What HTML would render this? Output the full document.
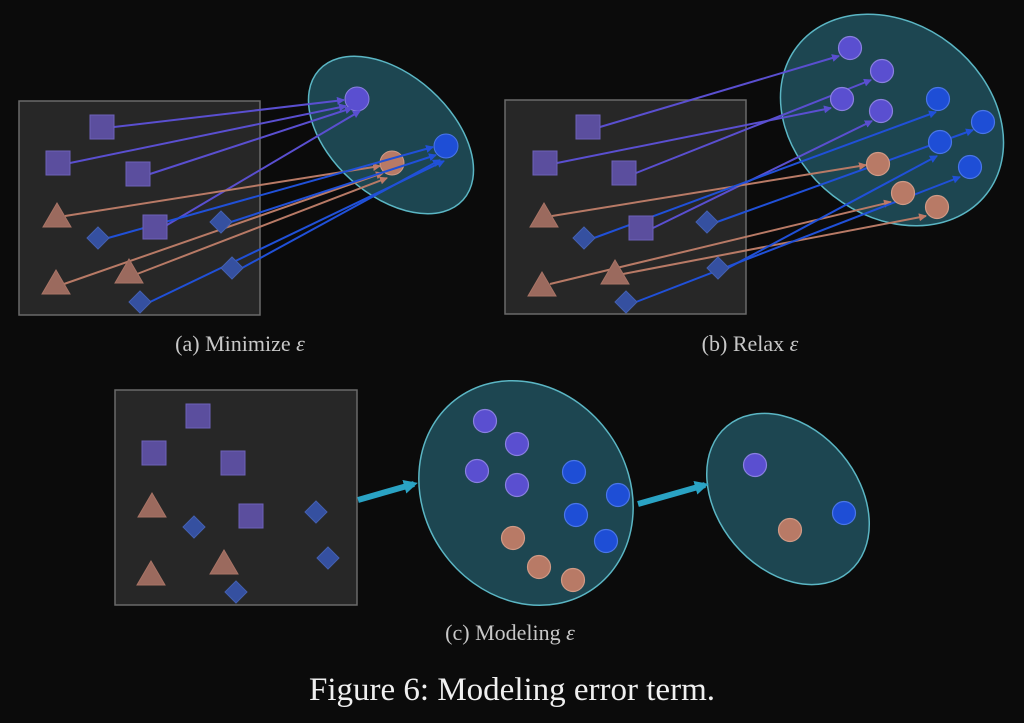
<!DOCTYPE html>
<html><head><meta charset="utf-8"><style>
html,body{margin:0;padding:0;background:#0b0b0b;}
svg{display:block}
text{font-family:"Liberation Serif",serif;}
</style></head><body>
<svg width="1024" height="723" viewBox="0 0 1024 723" xmlns="http://www.w3.org/2000/svg">
<defs>
<marker id="mp" markerWidth="8" markerHeight="8" refX="7" refY="4" orient="auto" markerUnits="userSpaceOnUse"><path d="M0,0 L8,4 L0,8 z" fill="#5a4fd0"/></marker>
<marker id="mo" markerWidth="8" markerHeight="8" refX="7" refY="4" orient="auto" markerUnits="userSpaceOnUse"><path d="M0,0 L8,4 L0,8 z" fill="#c07a66"/></marker>
<marker id="mb" markerWidth="8" markerHeight="8" refX="7" refY="4" orient="auto" markerUnits="userSpaceOnUse"><path d="M0,0 L8,4 L0,8 z" fill="#2050d8"/></marker>
<marker id="mt" markerWidth="14" markerHeight="14" refX="10" refY="7" orient="auto" markerUnits="userSpaceOnUse"><path d="M0,0 L14,7 L0,14 z" fill="#2aa3c4"/></marker>
<g id="sq"><rect x="-12" y="-12" width="24" height="24" fill="#5b4e9e" stroke="#6e62b8" stroke-width="1"/></g>
<g id="tr"><path d="M0,-13 L14,11 L-14,11 z" fill="#9b6a5e" stroke="#a87466" stroke-width="1"/></g>
<g id="di"><path d="M0,-11 L11,0 L0,11 L-11,0 z" fill="#3550a0" stroke="#4460b0" stroke-width="1"/></g>
</defs>
<rect width="1024" height="723" fill="#0b0b0b"/>

<!-- Panel a -->
<rect x="19" y="101" width="241" height="214" fill="#272727" stroke="#6a6a6a" stroke-width="1.5"/>
<ellipse cx="391" cy="135" rx="97" ry="60" transform="rotate(42 391 135)" fill="#1d4651" stroke="#5bb6c4" stroke-width="1.5"/>
<circle cx="357" cy="99" r="12" fill="#5a4fd0" stroke="#8a80e0"/>
<circle cx="392" cy="163" r="12" fill="#b87a66" stroke="#d09a86"/>
<circle cx="446" cy="146" r="12" fill="#1e4ed6" stroke="#4a76e8"/>
<g fill="none" stroke-width="2">
<line x1="114" y1="127" x2="344" y2="100" stroke="#5a4fd0" marker-end="url(#mp)"/>
<line x1="70" y1="163" x2="346" y2="106" stroke="#5a4fd0" marker-end="url(#mp)"/>
<line x1="150" y1="174" x2="352" y2="108" stroke="#5a4fd0" marker-end="url(#mp)"/>
<line x1="167" y1="225" x2="360" y2="111" stroke="#5a4fd0" marker-end="url(#mp)"/>
<line x1="65" y1="216" x2="380" y2="166" stroke="#b87a66" marker-end="url(#mo)"/>
<line x1="64" y1="284" x2="383" y2="173" stroke="#b87a66" marker-end="url(#mo)"/>
<line x1="137" y1="274" x2="387" y2="178" stroke="#b87a66" marker-end="url(#mo)"/>
<line x1="108" y1="238" x2="433" y2="147" stroke="#2050d8" marker-end="url(#mb)"/>
<line x1="231" y1="222" x2="436" y2="155" stroke="#2050d8" marker-end="url(#mb)"/>
<line x1="242" y1="268" x2="440" y2="160" stroke="#2050d8" marker-end="url(#mb)"/>
<line x1="150" y1="302" x2="444" y2="161" stroke="#2050d8" marker-end="url(#mb)"/>
</g>
<use href="#sq" x="102" y="127"/><use href="#sq" x="58" y="163"/><use href="#sq" x="138" y="174"/><use href="#sq" x="155" y="227"/>
<use href="#tr" x="57" y="216"/><use href="#tr" x="56" y="283"/><use href="#tr" x="129" y="272"/>
<use href="#di" x="98" y="238"/><use href="#di" x="221" y="222"/><use href="#di" x="232" y="268"/><use href="#di" x="140" y="302"/>
<text x="240" y="351" font-size="22" fill="#c8c8c8" text-anchor="middle">(a) Minimize <tspan font-style="italic">ε</tspan></text>

<!-- Panel b -->
<rect x="505" y="100" width="241" height="214" fill="#272727" stroke="#6a6a6a" stroke-width="1.5"/>
<ellipse cx="892" cy="120" rx="120" ry="96" transform="rotate(38 892 120)" fill="#1d4651" stroke="#5bb6c4" stroke-width="1.5"/>
<g fill="none" stroke-width="2">
<line x1="600" y1="127" x2="839" y2="56" stroke="#5a4fd0" marker-end="url(#mp)"/>
<line x1="557" y1="163" x2="831" y2="108" stroke="#5a4fd0" marker-end="url(#mp)"/>
<line x1="636" y1="173" x2="871" y2="80" stroke="#5a4fd0" marker-end="url(#mp)"/>
<line x1="653" y1="228" x2="872" y2="121" stroke="#5a4fd0" marker-end="url(#mp)"/>
<line x1="552" y1="216" x2="866" y2="165" stroke="#b87a66" marker-end="url(#mo)"/>
<line x1="550" y1="284" x2="891" y2="202" stroke="#b87a66" marker-end="url(#mo)"/>
<line x1="623" y1="274" x2="926" y2="216" stroke="#b87a66" marker-end="url(#mo)"/>
<line x1="594" y1="238" x2="936" y2="112" stroke="#2050d8" marker-end="url(#mb)"/>
<line x1="717" y1="222" x2="973" y2="130" stroke="#2050d8" marker-end="url(#mb)"/>
<line x1="728" y1="268" x2="937" y2="156" stroke="#2050d8" marker-end="url(#mb)"/>
<line x1="636" y1="302" x2="960" y2="177" stroke="#2050d8" marker-end="url(#mb)"/>
</g>
<g stroke-width="1.2">
<circle cx="850" cy="48" r="11.5" fill="#5a4fd0" stroke="#8a80e0"/>
<circle cx="882" cy="71" r="11.5" fill="#5a4fd0" stroke="#8a80e0"/>
<circle cx="842" cy="99" r="11.5" fill="#5a4fd0" stroke="#8a80e0"/>
<circle cx="881" cy="111" r="11.5" fill="#5a4fd0" stroke="#8a80e0"/>
<circle cx="938" cy="99" r="11.5" fill="#1e4ed6" stroke="#4a76e8"/>
<circle cx="983" cy="122" r="11.5" fill="#1e4ed6" stroke="#4a76e8"/>
<circle cx="940" cy="142" r="11.5" fill="#1e4ed6" stroke="#4a76e8"/>
<circle cx="970" cy="167" r="11.5" fill="#1e4ed6" stroke="#4a76e8"/>
<circle cx="878" cy="164" r="11.5" fill="#b87a66" stroke="#d09a86"/>
<circle cx="903" cy="193" r="11.5" fill="#b87a66" stroke="#d09a86"/>
<circle cx="937" cy="207" r="11.5" fill="#b87a66" stroke="#d09a86"/>
</g>
<use href="#sq" x="588" y="127"/><use href="#sq" x="545" y="163"/><use href="#sq" x="624" y="173"/><use href="#sq" x="641" y="228"/>
<use href="#tr" x="544" y="216"/><use href="#tr" x="542" y="285"/><use href="#tr" x="615" y="273"/>
<use href="#di" x="584" y="238"/><use href="#di" x="707" y="222"/><use href="#di" x="718" y="268"/><use href="#di" x="626" y="302"/>
<text x="750" y="351" font-size="22" fill="#c8c8c8" text-anchor="middle">(b) Relax <tspan font-style="italic">ε</tspan></text>

<!-- Panel c -->
<rect x="115" y="390" width="242" height="215" fill="#272727" stroke="#6a6a6a" stroke-width="1.5"/>
<use href="#sq" x="198" y="416"/><use href="#sq" x="154" y="453"/><use href="#sq" x="233" y="463"/><use href="#sq" x="251" y="516"/>
<use href="#tr" x="152" y="506"/><use href="#tr" x="151" y="574"/><use href="#tr" x="224" y="563"/>
<use href="#di" x="194" y="527"/><use href="#di" x="316" y="512"/><use href="#di" x="328" y="558"/><use href="#di" x="236" y="592"/>
<ellipse cx="526" cy="493" rx="117" ry="102" transform="rotate(55 526 493)" fill="#1d4651" stroke="#5bb6c4" stroke-width="1.5"/>
<ellipse cx="788" cy="499" rx="95" ry="70" transform="rotate(50 788 499)" fill="#1d4651" stroke="#5bb6c4" stroke-width="1.5"/>
<line x1="358" y1="500" x2="414" y2="484" stroke="#2aa3c4" stroke-width="6" marker-end="url(#mt)"/>
<line x1="638" y1="504" x2="705" y2="485" stroke="#2aa3c4" stroke-width="6" marker-end="url(#mt)"/>
<g stroke-width="1.2">
<circle cx="485" cy="421" r="11.5" fill="#5a4fd0" stroke="#8a80e0"/>
<circle cx="517" cy="444" r="11.5" fill="#5a4fd0" stroke="#8a80e0"/>
<circle cx="477" cy="471" r="11.5" fill="#5a4fd0" stroke="#8a80e0"/>
<circle cx="517" cy="485" r="11.5" fill="#5a4fd0" stroke="#8a80e0"/>
<circle cx="574" cy="472" r="11.5" fill="#1e4ed6" stroke="#4a76e8"/>
<circle cx="618" cy="495" r="11.5" fill="#1e4ed6" stroke="#4a76e8"/>
<circle cx="576" cy="515" r="11.5" fill="#1e4ed6" stroke="#4a76e8"/>
<circle cx="606" cy="541" r="11.5" fill="#1e4ed6" stroke="#4a76e8"/>
<circle cx="513" cy="538" r="11.5" fill="#b87a66" stroke="#d09a86"/>
<circle cx="539" cy="567" r="11.5" fill="#b87a66" stroke="#d09a86"/>
<circle cx="573" cy="580" r="11.5" fill="#b87a66" stroke="#d09a86"/>
<circle cx="755" cy="465" r="11.5" fill="#5a4fd0" stroke="#8a80e0"/>
<circle cx="790" cy="530" r="11.5" fill="#b87a66" stroke="#d09a86"/>
<circle cx="844" cy="513" r="11.5" fill="#1e4ed6" stroke="#4a76e8"/>
</g>
<text x="510" y="640" font-size="22" fill="#c8c8c8" text-anchor="middle">(c) Modeling <tspan font-style="italic">ε</tspan></text>

<text x="512" y="700" font-size="33" fill="#f0f0f0" text-anchor="middle">Figure 6: Modeling error term.</text>
</svg>
</body></html>
